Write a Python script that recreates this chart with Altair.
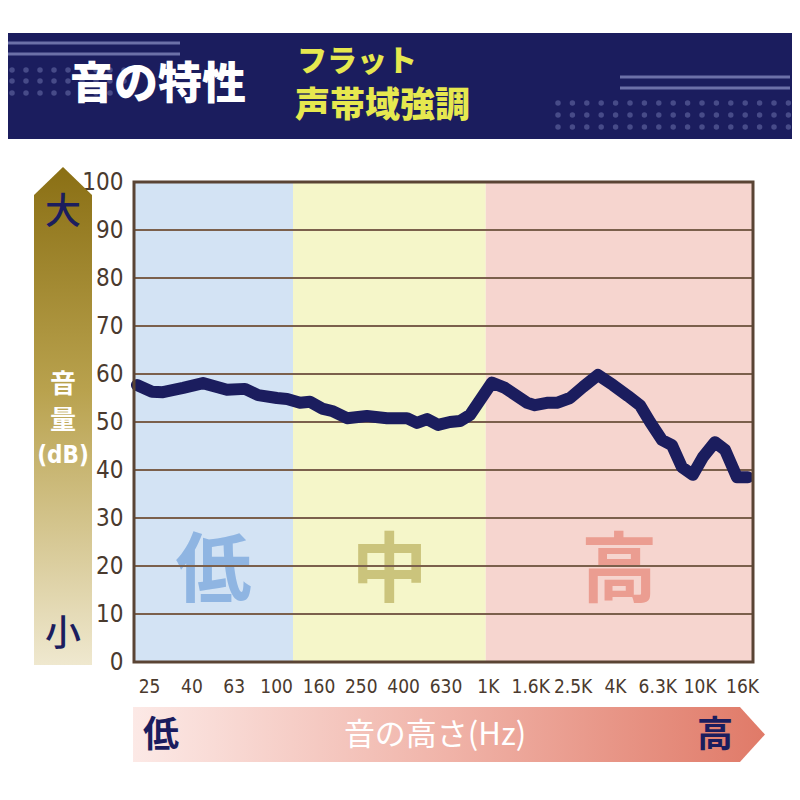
import altair as alt
import pandas as pd

# ---------------- data ----------------
tick_index = [0, 2, 4, 6, 8, 10, 12, 14, 16, 18, 20, 22, 24, 26, 28]
freq_labels = ["25", "40", "63", "100", "160", "250", "400", "630", "1K",
               "1.6K", "2.5K", "4K", "6.3K", "10K", "16K"]
y_ticks = [0, 10, 20, 30, 40, 50, 60, 70, 80, 90, 100]
grid_db = [10, 20, 30, 40, 50, 60, 70, 80, 90]

line_pos = [-0.57, 0.14, 0.66, 1.61, 2.55, 3.68, 4.53, 5.15, 6.04, 6.52, 7.13,
            7.60, 8.17, 8.64, 9.35, 10.29, 11.24, 12.18, 12.65, 13.13, 13.65,
            14.21, 14.68, 15.16, 16.19, 16.81, 17.85, 18.22, 18.79, 19.26,
            19.88, 20.49, 21.20, 21.91, 22.62, 23.18, 23.66, 24.22, 24.69,
            25.16, 25.68, 26.16, 26.72, 27.20, 27.76, 28.28]
line_db = [57.7, 56.3, 56.2, 57.1, 58.1, 56.7, 56.9, 55.6, 55.0, 54.8, 54.0,
           54.2, 52.8, 52.3, 50.8, 51.25, 50.8, 50.8, 49.8, 50.6, 49.4,
           50.0, 50.2, 51.5, 58.2, 57.1, 54.0, 53.5, 54.0, 54.0,
           55.0, 57.3, 59.8, 57.7, 55.4, 53.5, 50.0, 46.25, 45.2,
           40.6, 39.0, 42.7, 45.8, 44.2, 38.5, 38.5]

region_names = ["低", "中", "高"]
region_start = [-0.71, 6.8, 15.9]
region_end = [6.8, 15.9, 28.52]
region_fill = ["#d3e3f4", "#f5f6c9", "#f6d5cf"]
region_text_color = ["#8fb5e2", "#cbc47c", "#eb9d91"]

# ---------------- layout helpers ----------------
OX, OY = 134, 182          # page position of plot origin
W, H = 619, 480


def px(x):
    return x - OX


def py(y):
    return y - OY


X_DOMAIN = [-0.71, 28.52]
xscale = alt.Scale(domain=X_DOMAIN, nice=False, zero=False)
yscale = alt.Scale(domain=[0, 100], nice=False, zero=True)

NARROW = "Liberation Sans Narrow, DejaVu Sans Condensed, Liberation Sans, sans-serif"
label_expr = "[" + ",".join("'%s'" % s for s in freq_labels) + "][datum.value/2]"
x_axis = alt.Axis(values=tick_index, labelExpr=label_expr, title=None, grid=False,
                  domain=False, ticks=False, labelPadding=15, labelFontSize=19,
                  labelColor="#4a3a2e", labelFont=NARROW, labelOverlap=False,
                  labelAngle=0)
y_axis = alt.Axis(values=y_ticks, title=None, grid=False, domain=False, ticks=False,
                  labelPadding=11, labelFontSize=24, labelColor="#4a3a2e",
                  labelFont=NARROW, labelOverlap=False)

one = alt.Data(values=[{"a": 1}])
CJK = "Noto Sans CJK JP"
NAVY = "#1b1d5e"

layers = []

# ---------------- header ----------------
layers.append(alt.Chart(one).mark_rect(color=NAVY).encode(
    x=alt.value(px(0)), x2=alt.value(px(800)), y=alt.value(py(33)), y2=alt.value(py(139))))

for (x1, x2, yy) in [(8, 180, 43), (8, 180, 54), (620, 790, 77), (620, 790, 88)]:
    layers.append(alt.Chart(one).mark_rule(color="#6c70a8", strokeWidth=3).encode(
        x=alt.value(px(x1)), x2=alt.value(px(x2)), y=alt.value(py(yy))))

dots = []
for yy in [70, 81, 93]:
    for k in range(9):
        dots.append({"dx": px(12 + 14 * k), "dy": py(yy)})
for yy in [103, 115, 127]:
    for k in range(17):
        dots.append({"dx": px(558 + 14.4 * k), "dy": py(yy)})
layers.append(alt.Chart(alt.Data(values=dots)).mark_circle(color="#474b88", size=30, opacity=1).encode(
    x=alt.X("dx:Q", scale=None), y=alt.Y("dy:Q", scale=None)))

layers.append(alt.Chart(one).mark_text(text="音の特性", font=CJK, fontWeight=900, fontSize=44,
                                       color="white", align="center", baseline="middle").encode(
    x=alt.value(px(158)), y=alt.value(py(86))))
layers.append(alt.Chart(one).mark_text(text="フラット", font=CJK, fontWeight=900, fontSize=30,
                                       color="#e6e84f", align="left", baseline="middle").encode(
    x=alt.value(px(297)), y=alt.value(py(62))))
layers.append(alt.Chart(one).mark_text(text="声帯域強調", font=CJK, fontWeight=900, fontSize=35,
                                       color="#e6e84f", align="left", baseline="middle").encode(
    x=alt.value(px(295)), y=alt.value(py(106))))

# ---------------- y arrow (volume) ----------------
v_grad = alt.Gradient(gradient="linear", x1=0, x2=0, y1=0, y2=1,
                      stops=[alt.GradientStop(color="#8a6f14", offset=0),
                             alt.GradientStop(color="#b9a24e", offset=0.45),
                             alt.GradientStop(color="#efe8cf", offset=1)])
v_path = "M 0 -8.586 L 1 -7.621 L 1 8.586 L -1 8.586 L -1 -7.621 Z"
layers.append(alt.Chart(one).mark_point(shape=v_path, size=58 * 58, fill=v_grad, filled=True,
                                        opacity=1, strokeWidth=0).encode(
    x=alt.value(px(63)), y=alt.value(py(416))))
layers.append(alt.Chart(one).mark_text(text="大", font=CJK, fontSize=36, fontWeight=500, color=NAVY,
                                       align="center", baseline="middle").encode(
    x=alt.value(px(63)), y=alt.value(py(213))))
layers.append(alt.Chart(one).mark_text(text="小", font=CJK, fontSize=36, fontWeight=500, color=NAVY,
                                       align="center", baseline="middle").encode(
    x=alt.value(px(63)), y=alt.value(py(635))))
for t, yy in [("音", 385), ("量", 421)]:
    layers.append(alt.Chart(one).mark_text(text=t, font=CJK, fontSize=26, fontWeight="bold",
                                           color="white", align="center", baseline="middle").encode(
        x=alt.value(px(63)), y=alt.value(py(yy))))
layers.append(alt.Chart(one).mark_text(text="(dB)", font=NARROW, fontSize=24, fontWeight="bold",
                                       color="white", align="center", baseline="middle").encode(
    x=alt.value(px(63)), y=alt.value(py(456))))

# ---------------- x arrow (pitch) ----------------
h_grad = alt.Gradient(gradient="linear", x1=0, x2=1, y1=0, y2=0,
                      stops=[alt.GradientStop(color="#fce9e6", offset=0),
                             alt.GradientStop(color="#f0b3a8", offset=0.5),
                             alt.GradientStop(color="#e07a68", offset=1)])
h_path = "M -11.49 -1 L 10.58 -1 L 11.49 0 L 10.58 1 L -11.49 1 Z"
layers.append(alt.Chart(one).mark_point(shape=h_path, size=55 * 55, fill=h_grad, filled=True,
                                        opacity=1, strokeWidth=0).encode(
    x=alt.value(px(449)), y=alt.value(py(734.5))))
layers.append(alt.Chart(one).mark_text(text="低", font=CJK, fontSize=36, fontWeight="bold", color=NAVY,
                                       align="center", baseline="middle").encode(
    x=alt.value(px(161)), y=alt.value(py(736))))
layers.append(alt.Chart(one).mark_text(text="高", font=CJK, fontSize=36, fontWeight="bold", color=NAVY,
                                       align="center", baseline="middle").encode(
    x=alt.value(px(715)), y=alt.value(py(736))))
layers.append(alt.Chart(one).mark_text(text="音の高さ(Hz)", font=CJK, fontSize=31, color="white",
                                       align="center", baseline="middle").encode(
    x=alt.value(px(435)), y=alt.value(py(736))))

# ---------------- plot ----------------
regions = pd.DataFrame({"name": region_names, "start": region_start, "end": region_end,
                        "fill": region_fill, "tcolor": region_text_color})

layers.append(alt.Chart(regions).mark_rect().encode(
    x=alt.X("start:Q", scale=xscale, axis=x_axis),
    x2="end:Q",
    y=alt.datum(0, scale=yscale, axis=y_axis),
    y2=alt.datum(100),
    color=alt.Color("fill:N", scale=None)))

layers.append(alt.Chart(regions).transform_calculate(mid="(datum.start + datum.end) / 2").mark_text(
    font=CJK, fontSize=76, fontWeight="bold", align="center", baseline="middle").encode(
    x=alt.X("mid:Q", scale=xscale, axis=x_axis),
    y=alt.datum(18.5, scale=yscale, axis=y_axis),
    text="name:N",
    color=alt.Color("tcolor:N", scale=None)))

layers.append(alt.Chart(pd.DataFrame({"db": grid_db})).mark_rule(color="#7b604c", strokeWidth=2).encode(
    y=alt.Y("db:Q", scale=yscale, axis=y_axis)))

line_df = pd.DataFrame({"pos": line_pos, "db": line_db})
layers.append(alt.Chart(line_df).mark_line(color=NAVY, strokeWidth=12, strokeCap="round",
                                           strokeJoin="round").encode(
    x=alt.X("pos:Q", scale=xscale, axis=x_axis),
    y=alt.Y("db:Q", scale=yscale, axis=y_axis)))

layers.append(alt.Chart(one).mark_rect(fillOpacity=0, stroke="#5a4434", strokeWidth=3).encode(
    x=alt.value(0), x2=alt.value(W), y=alt.value(0), y2=alt.value(H)))

chart = alt.layer(*layers).properties(
    width=W, height=H,
    padding={"left": OX - 8, "top": OY - 8, "right": 784 - (OX - 8) - W, "bottom": 784 - (OY - 8) - H},
    autosize=alt.AutoSizeParams(type="none"),
    background="white",
).configure_view(stroke=None)

chart.save("out.html", embed_options={"renderer": "svg", "actions": False})
